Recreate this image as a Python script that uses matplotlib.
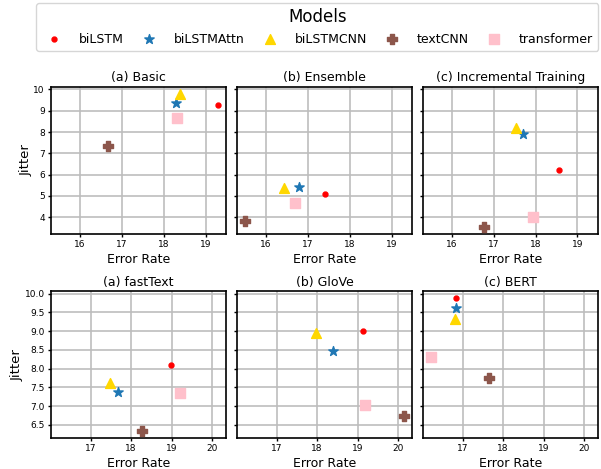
import numpy as np
import matplotlib
matplotlib.use('Agg')
import matplotlib.pyplot as plt

# modelos y estilos
models = ['biLSTM', 'biLSTMAttn', 'biLSTMCNN', 'textCNN', 'transformer']
markers = ['.', '*', '^', 'P', 's']
colors = ['red', 'tab:blue', 'gold', 'tab:brown', 'pink']

# fila de arriba: estrategias de entrenamiento
titles_top = ['(a) Basic', '(b) Ensemble', '(c) Incremental Training']
err_basic = [19.30, 18.29, 18.38, 16.66, 18.33]
jit_basic = [9.26, 9.37, 9.80, 7.33, 8.64]
err_ensemble = [17.41, 16.80, 16.43, 15.50, 16.69]
jit_ensemble = [5.09, 5.42, 5.36, 3.81, 4.68]
err_incremental = [18.56, 17.69, 17.53, 16.77, 17.93]
jit_incremental = [6.22, 7.92, 8.18, 3.53, 4.03]

# fila de abajo: embeddings
titles_bottom = ['(a) fastText', '(b) GloVe', '(c) BERT']
err_fasttext = [18.99, 17.68, 17.49, 18.26, 19.20]
jit_fasttext = [8.11, 7.39, 7.61, 6.33, 7.34]
err_glove = [19.13, 18.39, 17.98, 20.15, 19.18]
jit_glove = [9.00, 8.48, 8.96, 6.73, 7.02]
err_bert = [16.83, 16.83, 16.82, 17.66, 16.22]
jit_bert = [9.89, 9.62, 9.33, 7.75, 8.32]

fig = plt.figure(figsize=(6.01, 4.69), dpi=100)
gs = fig.add_gridspec(2, 3, left=0.085, right=0.995, top=0.8145, bottom=0.066,
                      wspace=0.063, hspace=0.39)

rows = [
    (titles_top, [(err_basic, jit_basic), (err_ensemble, jit_ensemble),
                  (err_incremental, jit_incremental)]),
    (titles_bottom, [(err_fasttext, jit_fasttext), (err_glove, jit_glove),
                     (err_bert, jit_bert)]),
]

for r, (titles, data) in enumerate(rows):
    first = None
    for c in range(3):
        if first is None:
            ax = fig.add_subplot(gs[r, c])
            first = ax
        else:
            ax = fig.add_subplot(gs[r, c], sharex=first, sharey=first)
            plt.setp(ax.get_yticklabels(), visible=False)
        err, jit = data[c]
        for i in range(len(models)):
            ax.scatter(err[i], jit[i], marker=markers[i], color=colors[i], s=50,
                       label=models[i], zorder=3)
        ax.grid(True, color='#bdbdbd', linewidth=1.2)
        ax.set_axisbelow(True)
        ax.set_title(titles[c], fontsize=9, pad=4)
        ax.set_xlabel('Error Rate', fontsize=9, labelpad=3)
        ax.tick_params(labelsize=6.5, length=2.5, width=1, pad=2)
        for sp in ax.spines.values():
            sp.set_linewidth(1.2)
        if c == 0:
            ax.set_ylabel('Jitter', fontsize=9.5, labelpad=0.5)
    if r == 0:
        first.set_xticks([16, 17, 18, 19])
        first.set_yticks([4, 5, 6, 7, 8, 9, 10])
    else:
        first.set_xticks([17, 18, 19, 20])
        first.set_yticks(np.arange(6.5, 10.01, 0.5))

handles, labels = fig.axes[0].get_legend_handles_labels()
fig.legend(handles, labels, loc='upper right', bbox_to_anchor=(0.9995, 0.998),
           ncol=5, title='Models', title_fontsize=12, fontsize=9,
           columnspacing=1.0, handletextpad=1.0, borderaxespad=0.2)

fig.savefig('out.png', dpi=100)
